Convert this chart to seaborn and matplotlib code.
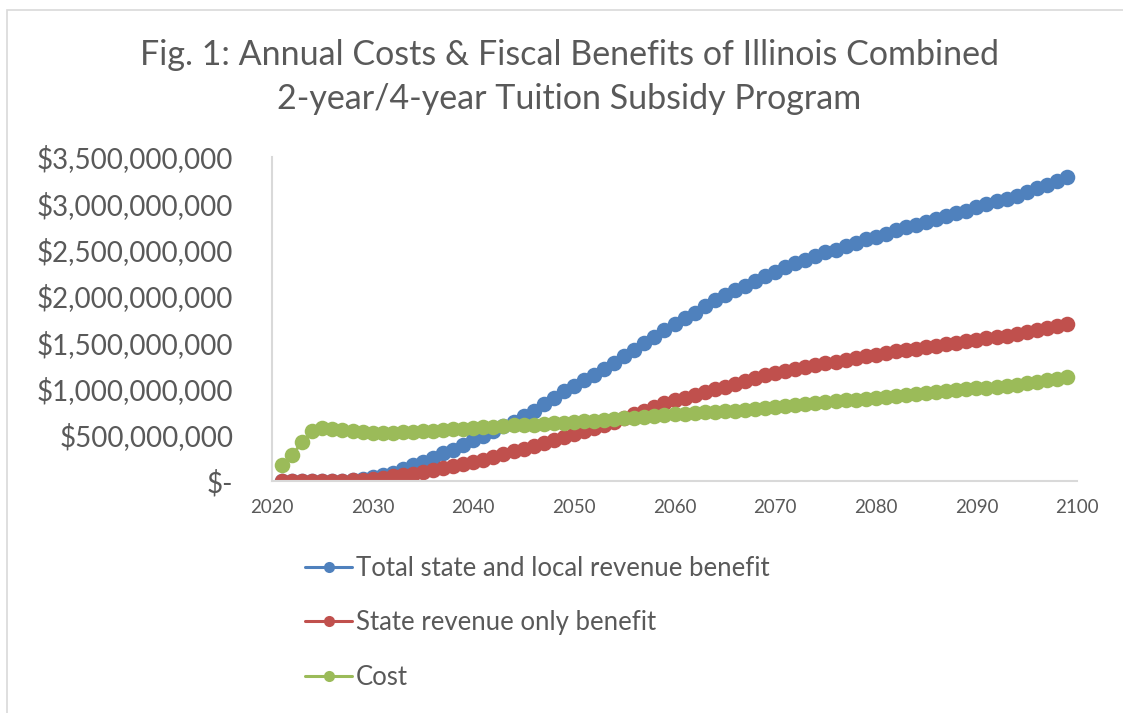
import seaborn as sns
import matplotlib.pyplot as plt
import matplotlib.patches as patches
from matplotlib.lines import Line2D
import pandas as pd

years = list(range(2021, 2100))

# billions of dollars
total_benefit = [0.0, 0.0, 0.0, 0.0, 0.0, 0.0, 0.005, 0.01, 0.02, 0.04,
                 0.06, 0.09, 0.13, 0.17, 0.21, 0.25, 0.30, 0.34, 0.39, 0.44,
                 0.49, 0.54, 0.59, 0.64, 0.70, 0.76, 0.83, 0.90, 0.97, 1.03,
                 1.09, 1.15, 1.21, 1.28, 1.35, 1.42, 1.49, 1.56, 1.63, 1.70,
                 1.76, 1.82, 1.89, 1.95, 2.01, 2.06, 2.11, 2.16, 2.21, 2.26,
                 2.31, 2.35, 2.39, 2.43, 2.47, 2.50, 2.54, 2.57, 2.61, 2.64,
                 2.67, 2.71, 2.74, 2.77, 2.80, 2.83, 2.86, 2.89, 2.92, 2.96,
                 2.99, 3.02, 3.05, 3.08, 3.12, 3.16, 3.20, 3.24, 3.28]

state_benefit = [0.0, 0.0, 0.0, 0.0, 0.0, 0.0, 0.003, 0.008, 0.015, 0.025,
                 0.035, 0.05, 0.065, 0.08, 0.10, 0.12, 0.14, 0.16, 0.18, 0.21,
                 0.23, 0.26, 0.29, 0.32, 0.35, 0.38, 0.41, 0.44, 0.47, 0.51,
                 0.54, 0.57, 0.60, 0.64, 0.68, 0.72, 0.76, 0.80, 0.84, 0.87,
                 0.90, 0.93, 0.96, 0.99, 1.02, 1.05, 1.08, 1.11, 1.14, 1.17,
                 1.19, 1.21, 1.23, 1.25, 1.27, 1.29, 1.31, 1.33, 1.35, 1.36,
                 1.38, 1.40, 1.41, 1.43, 1.45, 1.46, 1.48, 1.49, 1.51, 1.52,
                 1.54, 1.56, 1.57, 1.59, 1.61, 1.63, 1.65, 1.67, 1.70]

cost = [0.17, 0.28, 0.42, 0.54, 0.57, 0.56, 0.55, 0.54, 0.53, 0.52,
        0.52, 0.52, 0.53, 0.53, 0.54, 0.54, 0.55, 0.56, 0.56, 0.57,
        0.58, 0.58, 0.59, 0.60, 0.61, 0.61, 0.62, 0.63, 0.63, 0.64,
        0.65, 0.65, 0.66, 0.67, 0.68, 0.68, 0.69, 0.70, 0.71, 0.72,
        0.72, 0.73, 0.74, 0.75, 0.76, 0.76, 0.77, 0.78, 0.79, 0.80,
        0.81, 0.82, 0.83, 0.84, 0.85, 0.86, 0.87, 0.88, 0.89, 0.90,
        0.91, 0.92, 0.93, 0.94, 0.95, 0.96, 0.97, 0.98, 0.99, 1.00,
        1.01, 1.02, 1.03, 1.04, 1.06, 1.07, 1.09, 1.10, 1.12]

series_names = ["Total state and local revenue benefit", "State revenue only benefit", "Cost"]
colors = ["#4F81BD", "#C0504D", "#9BBB59"]
y_ticks = [0, 500000000, 1000000000, 1500000000, 2000000000, 2500000000, 3000000000, 3500000000]
x_ticks = list(range(2020, 2101, 10))

title = "Fig. 1: Annual Costs & Fiscal Benefits of Illinois Combined\n2-year/4-year Tuition Subsidy Program"

df = pd.DataFrame({"year": years,
                   series_names[0]: [v * 1e9 for v in total_benefit],
                   series_names[1]: [v * 1e9 for v in state_benefit],
                   series_names[2]: [v * 1e9 for v in cost]})

sns.set_style("white")
plt.rcParams["font.family"] = ["Lato", "DejaVu Sans"]
text_col = "#595959"

fig = plt.figure(figsize=(11.23, 7.13), dpi=100)
ax = fig.add_axes([272 / 1123, 232 / 713, 805 / 1123, 324 / 713])

# chart area border
fig.add_artist(patches.Rectangle((7 / 1123, -0.1), 1.2, 1.1 - 10 / 713,
                                 transform=fig.transFigure, fill=False,
                                 edgecolor="#D9D9D9", linewidth=1.2))

for name, c in zip(series_names, colors):
    sns.lineplot(x="year", y=name, data=df, ax=ax, color=c, marker="o",
                 markersize=11.2, markeredgewidth=0, linewidth=2.2)

ax.set_xlim(2020, 2100)
ax.set_ylim(0, 3500000000)
ax.set_xticks(x_ticks)
ax.set_xticklabels([str(x) for x in x_ticks], fontsize=13.5, color=text_col)
ax.set_yticks(y_ticks)
ax.set_yticklabels(["$-" if v == 0 else "${:,}".format(v) for v in y_ticks],
                   fontsize=20, color=text_col)
ax.tick_params(axis="y", length=0, pad=28)
ax.tick_params(axis="x", length=0, pad=13)
ax.set_xlabel("")
ax.set_ylabel("")
for s in ["top", "right"]:
    ax.spines[s].set_visible(False)
for s in ["left", "bottom"]:
    ax.spines[s].set_color("#D9D9D9")
    ax.spines[s].set_linewidth(1.5)

fig.text(0.507, 1 - 77 / 713, title, ha="center", va="center", fontsize=24.5,
         color=text_col, linespacing=1.45)

handles = [Line2D([0], [0], color=c, marker="o", markersize=8, markeredgewidth=0,
                  linewidth=2.2) for c in colors]
fig.legend(handles, series_names, loc="upper left", bbox_to_anchor=(292 / 1123, 1 - 543 / 713),
           frameon=False, fontsize=18.5, labelcolor=text_col, handlelength=1.85,
           handletextpad=0.15, labelspacing=1.15, borderpad=0)

plt.savefig("out.png", dpi=100)
